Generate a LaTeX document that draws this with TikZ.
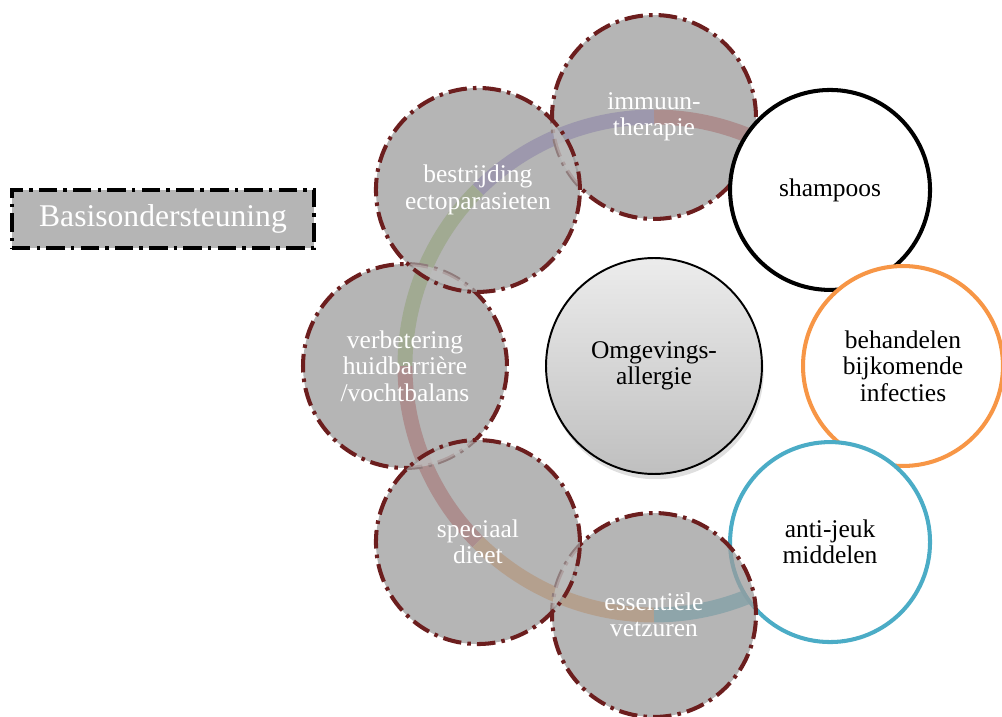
\documentclass[tikz,border=0pt]{standalone}
\usepackage{fontspec}
\setmainfont{Liberation Serif}
\usetikzlibrary{shadows}
\definecolor{rim}{RGB}{108,30,30}
\definecolor{disc}{RGB}{156,156,156}
\definecolor{boxgrey}{RGB}{181,181,181}
\definecolor{bandred}{RGB}{220,104,104}
\definecolor{bandpurple}{RGB}{160,144,224}
\definecolor{bandgreen}{RGB}{176,212,120}
\definecolor{bandtan}{RGB}{255,172,104}
\definecolor{bandteal}{RGB}{104,192,212}
\definecolor{ringorange}{RGB}{247,150,70}
\definecolor{ringteal}{RGB}{75,172,198}
\begin{document}
\begin{tikzpicture}[x=0.02cm,y=0.02cm,
  txt/.style={font=\fontsize{14.5}{15}\selectfont,align=center},
  dashdot/.style={dash pattern=on 10.5pt off 3.5pt on 2pt off 3.5pt},
  grey/.style={circle,txt,minimum size=4.08cm,fill=disc,fill opacity=.75,text opacity=1,
    draw=rim,line width=2.3pt,dashdot,text=white},
  open/.style={circle,txt,minimum size=4cm,fill=white,line width=2.3pt,draw=#1},
  band/.style={line width=8.5pt}]
\useasboundingbox (-654,-351) rectangle (348,366);
\foreach \a/\b/\c in {60/90/bandred,90/135/bandpurple,135/180/bandgreen,180/225/bandred,225/270/bandtan,270/300/bandteal}
 \draw[band,\c] (\a:249) arc[start angle=\a,end angle=\b,radius=249];
\node[circle,txt,minimum size=4.32cm,draw,line width=1.1pt,top color=gray!15,bottom color=gray!50,
  drop shadow={opacity=.25,shadow xshift=1pt,shadow yshift=-3pt}] (allergie) at (0,0) {Omgevings-\\allergie};
\node[grey] (immuun) at (90:249) {immuun-\\therapie};
\node[open=black] (shampoos) at (45:249) {shampoos};
\node[open=ringorange] (infecties) at (0:249) {behandelen\\bijkomende\\infecties};
\node[open=ringteal] (jeuk) at (-45:249) {anti-jeuk\\middelen};
\node[grey] (vetzuren) at (-90:249) {essentiële\\vetzuren};
\node[grey] (huid) at (180:249) {verbetering\\huidbarrière\\/vochtbalans};
\node[grey] (dieet) at (-135:249) {speciaal\\dieet};
\node[grey] (ecto) at (135:249) {bestrijding\\ectoparasieten};
\foreach \p/\q in {ecto/immuun,ecto/huid,dieet/huid,dieet/vetzuren}{
 \begin{scope}
 \clip (\q.center) circle (102);
 \fill[white,opacity=.28] (\p.center) circle (100);
 \end{scope}}
\node[draw,line width=2.4pt,dashdot,fill=boxgrey,text=white,minimum width=6.04cm,minimum height=1.16cm,
  font=\fontsize{18}{20}\selectfont] (basis) at (-491,147) {Basisondersteuning};
\end{tikzpicture}
\end{document}
